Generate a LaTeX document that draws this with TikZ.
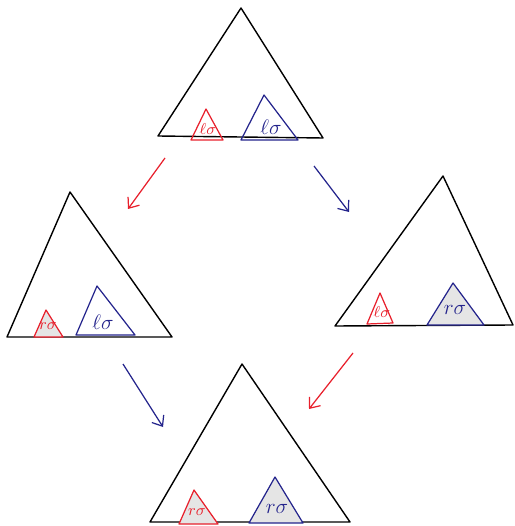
\documentclass[tikz,border=0pt]{standalone}
\usepackage{amsmath,amssymb}
\usetikzlibrary{arrows.meta}
\definecolor{penred}{RGB}{232,32,44}
\definecolor{penblue}{RGB}{36,36,140}

\begin{document}
\begin{tikzpicture}[x=0.02cm, y=-0.02cm,
    big/.style={draw=black, line width=0.8pt, line join=round},
    sub/.style={draw=#1, line width=0.7pt, line join=round},
    shaded/.style={fill=gray!20},
    lab/.style={text=#1, font=\large, inner sep=0pt},
    move/.style={->, line width=0.7pt, draw=#1},
    >={Straight Barb[length=5pt,width=8pt]}
  ]
  \useasboundingbox (0,0) rectangle (514,526);

  % Big trees (top, left, right, bottom)
  \draw[big] (241,8) coordinate (top) -- (323,138) -- (158,136) -- cycle;
  \draw[big] (70,192) coordinate (left) -- (172,337) -- (7,337) -- cycle;
  \draw[big] (443,176) coordinate (right) -- (513,325) -- (335,326) -- cycle;
  \draw[big] (242,364) coordinate (bottom) -- (350,522) -- (150,522) -- cycle;

  % Subtrees in the top tree
  \draw[sub=penred]  (206,109) -- (223,140) -- (191,140) -- cycle;
  \draw[sub=penblue] (264,95) -- (298,140) -- (241,140) -- cycle;
  \node[lab=penred, font=\small] (tl) at (208,129) {$\ell\sigma$};
  \node[lab=penblue] (tr) at (271,127) {$\ell\sigma$};

  % Subtrees in the left tree
  \draw[sub=penred, shaded]  (46,310) -- (63,337) -- (34,337) -- cycle;
  \draw[sub=penblue] (97,286) -- (135,335) -- (76,335) -- cycle;
  \node[lab=penred, font=\small] (ll) at (48,326) {$r\sigma$};
  \node[lab=penblue] (lr) at (103,322) {$\ell\sigma$};

  % Subtrees in the right tree
  \draw[sub=penred]  (380,293) -- (393,323) -- (367,324) -- cycle;
  \draw[sub=penblue, shaded] (453,283) -- (484,325) -- (427,325) -- cycle;
  \node[lab=penred, font=\small] (rl) at (382,312) {$\ell\sigma$};
  \node[lab=penblue] (rr) at (455,310) {$r\sigma$};

  % Subtrees in the bottom tree
  \draw[sub=penred, shaded]  (194,490) -- (218,524) -- (179,524) -- cycle;
  \draw[sub=penblue, shaded] (275,477) -- (303,523) -- (249,523) -- cycle;
  \node[lab=penred, font=\small] (bl) at (197,512) {$r\sigma$};
  \node[lab=penblue] (br) at (277,509) {$r\sigma$};

  % Arrow ends
  \coordinate (a1) at (165,158);  \coordinate (b1) at (128,209);
  \coordinate (a2) at (314,166);  \coordinate (b2) at (349,212);
  \coordinate (a3) at (123,364);  \coordinate (b3) at (163,427);
  \coordinate (a4) at (353,353);  \coordinate (b4) at (309,409);

  % Arrows
  \foreach \s/\e/\c in {a1/b1/penred, a2/b2/penblue, a3/b3/penblue, a4/b4/penred} {
    \draw[move=\c] (\s) -- (\e);
  }
\end{tikzpicture}
\end{document}
